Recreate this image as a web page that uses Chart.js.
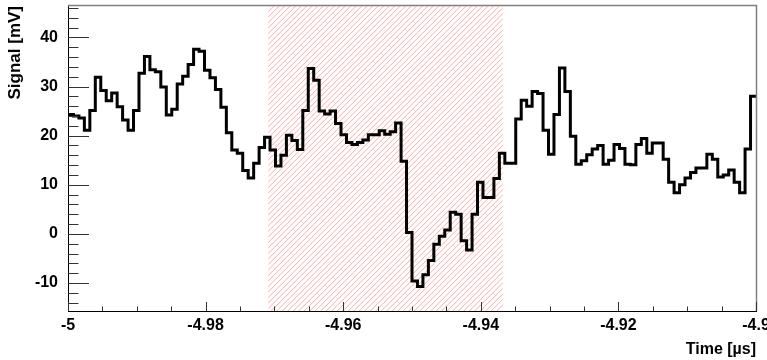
<!DOCTYPE html>
<html>
<head>
<meta charset="utf-8">
<script src="https://cdn.jsdelivr.net/npm/chart.js@4.4.0/dist/chart.umd.min.js"></script>
<style>
  html, body { margin: 0; padding: 0; background: #fff; }
</style>
</head>
<body>
<canvas id="grafico" width="767" height="360"></canvas>
<script>
// histogram binning (time in µs)
const xMin = -5.0;
const xMax = -4.9;
const nBins = 126;

// signal per bin in mV, left to right
const signal = [
  24.3, 24.0, 23.6, 21.1, 25.1, 31.9, 29.2, 27.1, 28.7, 25.9,
  23.2, 21.1, 25.1, 32.7, 36.1, 33.4, 33.0, 29.9, 24.2, 25.4,
  30.5, 32.1, 34.5, 37.6, 37.2, 33.3, 31.8, 29.4, 25.8, 20.6,
  17.1, 16.4, 12.9, 11.4, 14.4, 17.6, 19.7, 17.1, 13.8, 16.0,
  20.1, 19.0, 17.2, 25.1, 33.7, 31.3, 25.0, 24.4, 25.0, 22.5,
  20.2, 18.6, 18.2, 18.6, 19.1, 20.2, 20.2, 21.0, 20.3, 20.8,
  22.6, 14.8, 0.3, -9.6, -10.7, -8.3, -5.4, -2.1, -0.5, 0.8,
  4.4, 4.0, -1.4, -3.3, 4.0, 10.5, 7.4, 7.4, 11.3, 16.4,
  14.4, 14.4, 23.4, 27.2, 26.0, 29.0, 28.6, 21.1, 16.2, 24.3,
  33.8, 29.0, 19.9, 14.2, 14.9, 16.1, 17.3, 18.0, 14.2, 15.0,
  18.2, 17.4, 14.2, 14.1, 18.2, 19.4, 16.4, 18.5, 18.5, 15.2,
  10.5, 8.4, 10.0, 11.4, 12.5, 13.4, 13.4, 16.2, 15.2, 11.6,
  12.0, 13.0, 10.5, 8.4, 17.3, 28.0
];

// hatched time window
const windowStart = -4.9709;
const windowEnd = -4.9368;

// axes
const xTicks = [-5, -4.98, -4.96, -4.94, -4.92, -4.9];
const yTicks = [-10, 0, 10, 20, 30, 40];
const yMin = -15.7;
const yMax = 46.4;

// step points: left edge of every bin, plus the right edge of the last one
const binWidth = (xMax - xMin) / nBins;
const puntos = signal.map((v, i) => ({ x: xMin + i * binWidth, y: v }));
puntos.push({ x: xMax, y: signal[signal.length - 1] });

const fuenteEje = { family: 'Liberation Sans, Arial, sans-serif', size: 16, weight: 'bold' };

const decor = {
  id: 'decor',
  beforeDatasetsDraw(chart) {
    const { ctx, chartArea: a, scales: { x } } = chart;
    const x0 = x.getPixelForValue(windowStart);
    const x1 = x.getPixelForValue(windowEnd);
    const h = a.bottom - a.top;
    ctx.save();
    ctx.beginPath();
    ctx.rect(x0, a.top, x1 - x0, h);
    ctx.clip();
    ctx.strokeStyle = 'rgba(255, 100, 100, 0.55)';
    ctx.lineWidth = 1;
    ctx.beginPath();
    for (let sx = x0 - h; sx < x1; sx += 5.5) {
      ctx.moveTo(sx, a.bottom);
      ctx.lineTo(sx + h, a.top);
    }
    ctx.stroke();
    ctx.restore();
  },
  afterDraw(chart) {
    const { ctx, chartArea: a, scales: { x, y } } = chart;
    ctx.save();
    // frame top and right
    ctx.strokeStyle = '#808080';
    ctx.lineWidth = 1.5;
    ctx.beginPath();
    ctx.moveTo(a.left, a.top - 0.5);
    ctx.lineTo(a.right + 0.5, a.top - 0.5);
    ctx.lineTo(a.right + 0.5, a.bottom);
    ctx.stroke();
    // ticks inside the frame
    ctx.strokeStyle = '#333';
    ctx.lineWidth = 1;
    ctx.beginPath();
    for (let v = -14; v <= yMax; v += 2) {
      const py = Math.round(y.getPixelForValue(v)) + 0.5;
      const len = (v % 10 === 0) ? 21 : 10.5;
      ctx.moveTo(a.left, py);
      ctx.lineTo(a.left + len, py);
    }
    for (let k = 0; k <= 20; k++) {
      const v = xMin + k * 0.005;
      const px = Math.round(x.getPixelForValue(v)) + 0.5;
      const len = (k % 4 === 0) ? 9 : 4.5;
      ctx.moveTo(px, a.bottom);
      ctx.lineTo(px, a.bottom - len);
    }
    ctx.stroke();
    ctx.restore();
  }
};

new Chart(document.getElementById('grafico'), {
  type: 'line',
  data: {
    datasets: [{
      data: puntos,
      stepped: true,
      borderColor: '#000',
      borderWidth: 3,
      borderJoinStyle: 'miter',
      pointRadius: 0,
      fill: false
    }]
  },
  options: {
    responsive: false,
    animation: false,
    devicePixelRatio: 1,
    layout: { padding: { top: 6, right: 11, left: 0, bottom: 0 } },
    plugins: { legend: { display: false }, tooltip: { enabled: false } },
    scales: {
      x: {
        type: 'linear',
        min: xMin,
        max: xMax,
        afterFit(s) { s.height = 49; s.paddingLeft = 0; s.paddingRight = 0; },
        afterBuildTicks(s) { s.ticks = xTicks.map(v => ({ value: v })); },
        grid: { display: false, drawTicks: false },
        border: { color: '#000', width: 1 },
        ticks: {
          color: '#000',
          font: fuenteEje,
          padding: 5,
          maxRotation: 0,
          autoSkip: false,
          callback: v => String(Number(v.toFixed(2)))
        },
        title: {
          display: true,
          text: 'Time [µs]',
          align: 'end',
          color: '#000',
          font: fuenteEje,
          padding: { top: 0, bottom: 1 }
        }
      },
      y: {
        min: yMin,
        max: yMax,
        afterFit(s) { s.width = 68; s.paddingTop = 0; s.paddingBottom = 0; },
        afterBuildTicks(s) { s.ticks = yTicks.map(v => ({ value: v })); },
        grid: { display: false, drawTicks: false },
        border: { color: '#000', width: 1 },
        ticks: { color: '#000', font: fuenteEje, padding: 10 },
        title: {
          display: true,
          text: 'Signal [mV]',
          align: 'end',
          color: '#000',
          font: { family: 'Liberation Sans, Arial, sans-serif', size: 17, weight: 'bold' },
          padding: { top: 5, bottom: 0 }
        }
      }
    }
  },
  plugins: [decor]
});
</script>
</body>
</html>
